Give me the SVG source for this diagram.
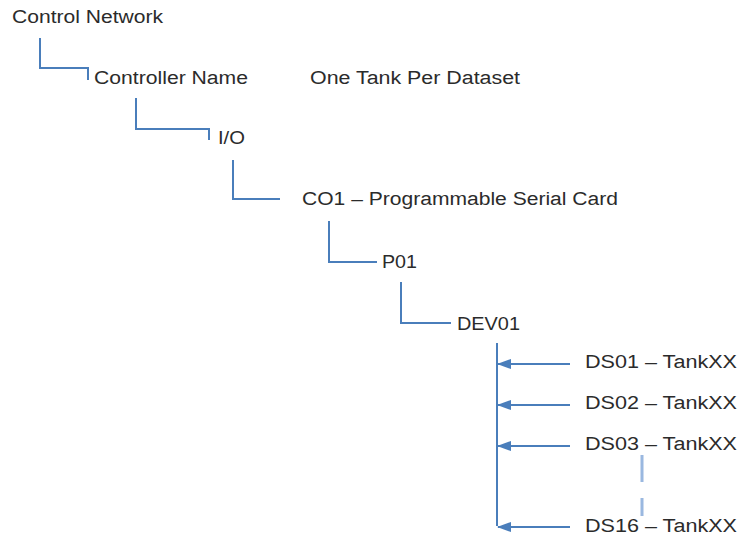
<svg xmlns="http://www.w3.org/2000/svg" width="739" height="540" viewBox="0 0 739 540">
  <style>
    .lbl { font-family: "Liberation Sans", Arial, sans-serif; font-size: 18px; fill: #2b2b2b; }
    .wire { fill: none; stroke: #4a7ebb; stroke-width: 2; }
    .arrow { fill: none; stroke: #4a7ebb; stroke-width: 2; marker-end: url(#head); }
    .dash { fill: none; stroke: #9ab8e0; stroke-width: 3; }
  </style>
  <defs>
    <marker id="head" viewBox="0 0 14 10" refX="13" refY="5" markerWidth="14" markerHeight="10" markerUnits="userSpaceOnUse" orient="auto">
      <path d="M0,0 L14,5 L0,10 Z" fill="#4a7ebb"/>
    </marker>
  </defs>
  <rect width="739" height="540" fill="#ffffff"/>

  <!-- tree connectors and dataset arrows -->
  <g id="connectors">
    <path class="wire" d="M40,38 V68 H88 V80"/>
    <path class="wire" d="M136,98 V129 H209 V140"/>
    <path class="wire" d="M233,160 V199 H280"/>
    <path class="wire" d="M329,221 V262 H377"/>
    <path class="wire" d="M401,282 V323 H451"/>
    <path class="wire" d="M497,343 V526"/>
    <path class="arrow" d="M570,364 H498"/>
    <path class="arrow" d="M570,405 H498"/>
    <path class="arrow" d="M570,446 H498"/>
    <path class="arrow" d="M570,527 H498"/>
    <path class="dash" d="M642,455 V482 M642,498 V516"/>
  </g>

  <g id="control-network"><text class="lbl" x="12" y="23" textLength="151" lengthAdjust="spacingAndGlyphs">Control Network</text></g>
  <g id="controller-name"><text class="lbl" x="94" y="84" textLength="154" lengthAdjust="spacingAndGlyphs">Controller Name</text></g>
  <g id="dataset-note"><text class="lbl" x="310" y="84" textLength="210" lengthAdjust="spacingAndGlyphs">One Tank Per Dataset</text></g>
  <g id="io"><text class="lbl" x="218" y="144" textLength="27" lengthAdjust="spacingAndGlyphs">I/O</text></g>
  <g id="co1"><text class="lbl" x="302" y="205" textLength="316" lengthAdjust="spacingAndGlyphs">CO1 – Programmable Serial Card</text></g>
  <g id="p01"><text class="lbl" x="382" y="268" textLength="35" lengthAdjust="spacingAndGlyphs">P01</text></g>
  <g id="dev01"><text class="lbl" x="457" y="330" textLength="63" lengthAdjust="spacingAndGlyphs">DEV01</text></g>
  <g id="ds01"><text class="lbl" x="585" y="368" textLength="152" lengthAdjust="spacingAndGlyphs">DS01 – TankXX</text></g>
  <g id="ds02"><text class="lbl" x="585" y="409" textLength="152" lengthAdjust="spacingAndGlyphs">DS02 – TankXX</text></g>
  <g id="ds03"><text class="lbl" x="585" y="450" textLength="152" lengthAdjust="spacingAndGlyphs">DS03 – TankXX</text></g>
  <g id="ds16"><text class="lbl" x="585" y="532" textLength="152" lengthAdjust="spacingAndGlyphs">DS16 – TankXX</text></g>
</svg>
